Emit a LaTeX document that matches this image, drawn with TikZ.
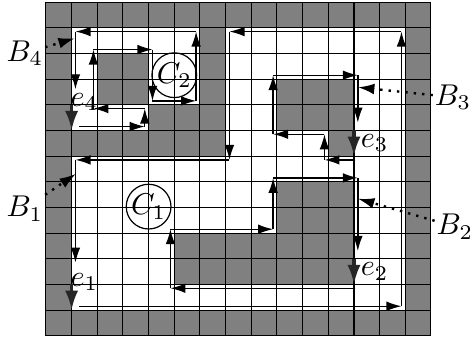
\documentclass[tikz,border=0pt]{standalone}
\usepackage{amsmath,amssymb}
\usepackage{tikz}
\usetikzlibrary{arrows.meta,calc}
\definecolor{cellgrey}{RGB}{128,128,128}
\definecolor{edgedark}{RGB}{38,38,38}
\tikzset{
  cell/.style={fill=cellgrey, draw=none},
  gridline/.style={line width=0.35pt, draw=black},
  trace/.style={-{Latex[length=5pt,width=3.2pt]}, line width=0.45pt, draw=black},
  edgearr/.style={-{Latex[length=6.5pt,width=4.4pt]}, line width=1.1pt, draw=edgedark},
  ptr/.style={-{Latex[length=5.5pt,width=3.6pt]}, dotted, line width=0.8pt},
  lbl/.style={inner sep=0.5pt},
  comp/.style={circle, draw, inner sep=0.2pt, line width=0.4pt},
}
\begin{document}
\begin{tikzpicture}[x=0.3cm,y=0.3cm]
  \useasboundingbox (-1.79,-0.16) rectangle (16.52,13.08);
  \foreach \xa/\ya/\xb/\yb in {0/0/15/1, 0/12/15/13, 0/1/1/12, 14/1/15/12, 6/8/7/12, 2/9/4/11, 4/8/6/9, 1/7/7/8, 9/8/12/10, 11/7/12/8, 9/4/12/6, 5/2/12/4}
    \fill[cell] (\xa,\ya) rectangle (\xb,\yb);
  \draw[gridline, step=1] (0,0) grid (15,13);
  % outer boundary (B1)
  \coordinate (o1) at (1.15,6.85);
  \coordinate (o2) at (1.15,2.85);
  \coordinate (o3) at (1.3,1.15);
  \coordinate (o4) at (13.85,1.15);
  \coordinate (o5) at (13.85,11.85);
  \coordinate (o6) at (7.15,11.85);
  \coordinate (o7) at (7.15,6.85);
  \foreach \a/\b in {1/2,3/4,4/5,5/6,6/7,7/1}{\draw[trace] (o\a) -- (o\b);}
  % lower obstacle (B2)
  \coordinate (p1) at (12.15,6.15);
  \coordinate (p2) at (12.15,3.3);
  \coordinate (p3) at (12.05,1.85);
  \coordinate (p4) at (4.85,1.85);
  \coordinate (p5) at (4.85,4.15);
  \coordinate (p6) at (8.85,4.15);
  \coordinate (p7) at (8.85,6.15);
  \foreach \a/\b in {1/2,3/4,4/5,5/6,6/7,7/1}{\draw[trace] (p\a) -- (p\b);}
  % upper obstacle (B3)
  \coordinate (q1) at (8.85,10.15);
  \coordinate (q2) at (12.15,10.15);
  \coordinate (q3) at (12.15,8.3);
  \coordinate (q4) at (12.05,6.85);
  \coordinate (q5) at (10.85,6.85);
  \coordinate (q6) at (10.85,7.85);
  \coordinate (q7) at (8.85,7.85);
  \foreach \a/\b in {1/2,2/3,4/5,5/6,6/7,7/1}{\draw[trace] (q\a) -- (q\b);}
  % small component (B4)
  \coordinate (r1) at (1.15,11.85);
  \coordinate (r2) at (1.15,9.6);
  \coordinate (r3) at (1.3,8.15);
  \coordinate (r4) at (3.85,8.15);
  \coordinate (r5) at (3.85,8.85);
  \coordinate (r6) at (1.85,8.85);
  \coordinate (r7) at (1.85,11.15);
  \coordinate (r8) at (4.15,11.15);
  \coordinate (r9) at (4.15,9.15);
  \coordinate (r10) at (5.85,9.15);
  \coordinate (r11) at (5.85,11.85);
  \foreach \a/\b in {1/2,3/4,4/5,5/6,6/7,7/8,8/9,9/10,10/11,11/1}{\draw[trace] (r\a) -- (r\b);}
  % starting edges
  \foreach \i/\xs/\ys/\yt in {1/1/2/1, 2/12/3/2, 3/12/8/7, 4/1/9/8}{
    \coordinate (e\i s) at (\xs,\ys);
    \coordinate (e\i t) at (\xs,\yt);
    \draw[edgearr] (e\i s) -- (e\i t);
  }
  \node[lbl] (le1) at (1.5,2.1) {$e_1$};
  \node[lbl] (le2) at (12.8,2.5) {$e_2$};
  \node[lbl] (le3) at (12.8,7.5) {$e_3$};
  \node[lbl] (le4) at (1.5,9.1) {$e_4$};
  \node[comp] (c1) at (4,5.03) {$C_1$};
  \node[comp] (c2) at (5,10.15) {$C_2$};
  \node[lbl] (b1) at (-0.82,4.95) {$B_1$};
  \node[lbl] (b2) at (15.93,4.25) {$B_2$};
  \node[lbl] (b3) at (15.86,9.29) {$B_3$};
  \node[lbl] (b4) at (-0.82,11.0) {$B_4$};
  \coordinate (t1) at (1.17,6.31);
  \coordinate (t2) at (12.15,5.34);
  \coordinate (t3) at (12.15,9.68);
  \coordinate (t4) at (1.13,11.59);
  \foreach \i in {1,2,3,4}{\draw[ptr] (b\i) -- (t\i);}
\end{tikzpicture}
\end{document}
